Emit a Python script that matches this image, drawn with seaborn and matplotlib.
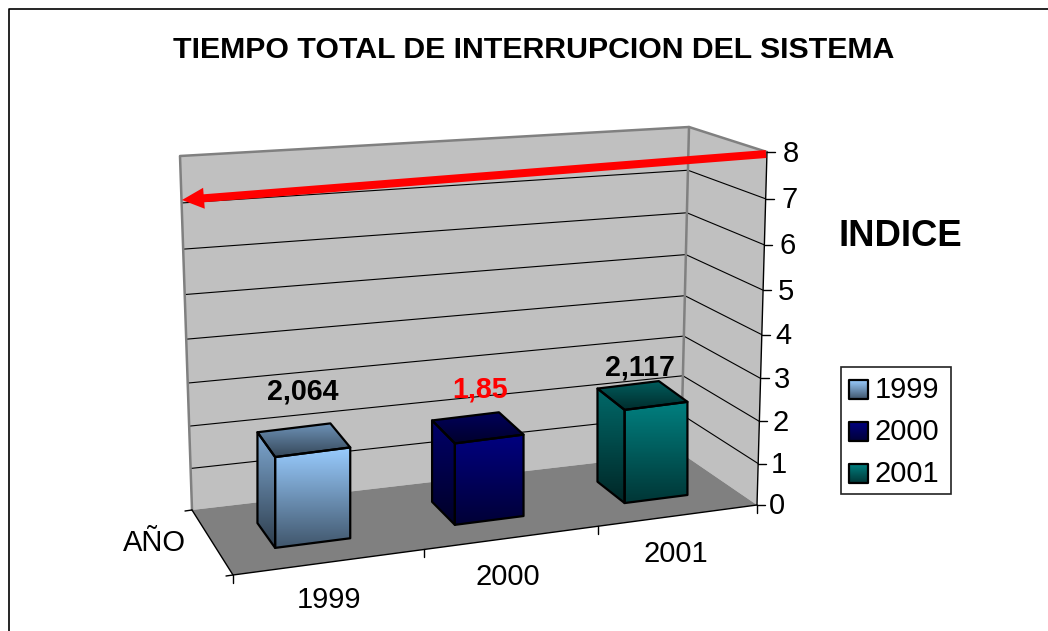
import numpy as np
import matplotlib
matplotlib.use('Agg')
import matplotlib.pyplot as plt
from matplotlib.patches import Polygon, Rectangle, FancyArrow
import seaborn as sns

years = ['1999', '2000', '2001']
values = [2.064, 1.85, 2.117]
value_labels = ['2,064', '1,85', '2,117']
label_colors = ['black', 'red', 'black']
bar_colors = ['#99CCFF', '#000080', '#008080']
y_ticks = [0, 1, 2, 3, 4, 5, 6, 7, 8]

sns.set_theme(style='white')
plt.rcParams['font.family'] = ['Liberation Sans', 'DejaVu Sans']

fig = plt.figure(figsize=(10.48, 6.31), dpi=100)
ax = fig.add_axes([0, 0, 1, 1])

# corners of the box on screen: (across, depth) -> pixel, one set for floor and one for top
floor_px = [(233, 575), (757, 505), (681, 453), (192, 510)]
top_px = [(221, 218), (767, 152), (689, 127), (180, 156)]
unit = [(0, 0), (1, 0), (1, 1), (0, 1)]
px_per_unit = 44


def homography(src, dst):
    A, b = [], []
    for (x, y), (X, Y) in zip(src, dst):
        A.append([x, y, 1, 0, 0, 0, -x * X, -y * X])
        A.append([0, 0, 0, x, y, 1, -x * Y, -y * Y])
        b += [X, Y]
    return np.append(np.linalg.solve(np.array(A, float), np.array(b, float)), 1).reshape(3, 3)


H_floor = homography(unit, floor_px)
H_top = homography(unit, top_px)


def project(u, d, v):
    p = np.array([u, d, 1.0])
    a = H_floor @ p
    b = H_top @ p
    a = a[:2] / a[2]
    b = b[:2] / b[2]
    t = v / 8
    t = t * (1 - 0.07 * (1 - t))  # walls spread a little towards the top
    return tuple(a + (b - a) * t)


def bar_pt(u, d, v):
    # bars stand straight up on the floor
    x, y = project(u, d, 0)
    return (x, y - v * px_per_unit)


def line(pts, color='black', lw=0.8):
    xs, ys = zip(*pts)
    sns.lineplot(x=list(xs), y=list(ys), sort=False, estimator=None, color=color,
                 linewidth=lw, ax=ax, legend=False)


def shade(color, k):
    return tuple(c * k for c in matplotlib.colors.to_rgb(color))


def grad_poly(pts, c1, c2, edge=True):
    # vertical gradient clipped to the polygon
    pts = np.array(pts)
    cmap = sns.blend_palette([c1, c2], as_cmap=True)
    grad = np.linspace(0, 1, 128).reshape(-1, 1)
    extent = [pts[:, 0].min(), pts[:, 0].max(), pts[:, 1].max(), pts[:, 1].min()]
    im = ax.imshow(grad, cmap=cmap, extent=extent, aspect='auto', origin='upper', zorder=3)
    clip = Polygon(pts, closed=True, transform=ax.transData)
    im.set_clip_path(clip)
    if edge:
        ax.add_patch(Polygon(pts, closed=True, fill=False, edgecolor='black', lw=1.6,
                             joinstyle='round', zorder=4))


# walls and floor
ax.add_patch(Polygon([project(0, 1, 0), project(1, 1, 0), project(1, 1, 8), project(0, 1, 8)],
                     facecolor='#C0C0C0', edgecolor='none'))
ax.add_patch(Polygon([project(1, 1, 0), project(1, 0, 0), project(1, 0, 8), project(1, 1, 8)],
                     facecolor='#C0C0C0', edgecolor='none'))
ax.add_patch(Polygon([project(0, 0, 0), project(1, 0, 0), project(1, 1, 0), project(0, 1, 0)],
                     facecolor='#808080', edgecolor='none'))

for v in y_ticks[1:-1]:
    line([project(0, 1, v), project(1, 1, v), project(1, 0, v)])

# wall outlines
line([project(0, 1, 0), project(0, 1, 8), project(1, 1, 8), project(1, 0, 8)], color='#808080', lw=1.8)
line([project(1, 1, 0), project(1, 1, 8)], color='#808080', lw=1.8)

# axes lines and ticks
line([project(0, 1, 0), project(0, 0, 0), project(1, 0, 0)], lw=1)
line([project(1, 0, 0), project(1, 0, 8)], lw=1)
for v in y_ticks:
    x, y = project(1, 0, v)
    line([(x, y), (x + 8, y)], lw=1)
    ax.text(x + 20 + 0.5 * v, y + 1.5, str(v), fontsize=21, color='black', ha='center', va='center')
for i in range(4):
    x, y = project(i / 3, 0, 0)
    line([(x, y), (x, y + 8)], lw=1)
x, y = project(0, 0, 0)
line([(x - 7, y + 1), (x, y)], lw=1)
x, y = project(0, 1, 0)
line([(x - 7, y + 1), (x, y)], lw=1)

# bars
half_w = 0.067
d0, d1 = 0.29, 0.68
center_shift = [-0.005, -0.009, -0.002]
label_offset = [(0, -47), (4, -37), (-1, -27)]
for i, val in enumerate(values):
    c = (i + 0.5) / 3 + center_shift[i]
    u0, u1 = c - half_w, c + half_w
    col = bar_colors[i]
    grad_poly([bar_pt(u0, d0, 0), bar_pt(u0, d1, 0), bar_pt(u0, d1, val), bar_pt(u0, d0, val)],
              shade(col, 0.82), shade(col, 0.30))
    grad_poly([bar_pt(u0, d0, val), bar_pt(u0, d1, val), bar_pt(u1, d1, val), bar_pt(u1, d0, val)],
              shade(col, 0.72), shade(col, 0.35))
    grad_poly([bar_pt(u0, d0, 0), bar_pt(u1, d0, 0), bar_pt(u1, d0, val), bar_pt(u0, d0, val)],
              shade(col, 1.0), shade(col, 0.42))
    tx, ty = bar_pt(c, 0.5, val)
    ax.text(tx + label_offset[i][0], ty + label_offset[i][1], value_labels[i], fontsize=20.6,
            fontweight='bold', color=label_colors[i], ha='center', va='center', zorder=6)

# red arrow along the top of the chart
ax.add_patch(FancyArrow(766, 154, -584, 46, width=8, head_width=21, head_length=22,
                        length_includes_head=True, color='#FF0000', lw=0, zorder=5))

# category labels
label_pos = [(329, 600), (508, 577), (676, 554)]
for yr, (x, y) in zip(years, label_pos):
    ax.text(x, y, yr, fontsize=21, color='black', ha='center', va='center')

ax.text(154, 543, 'AÑO', fontsize=21, color='black', ha='center', va='center')
ax.text(900, 236, 'INDICE', fontsize=26.3, fontweight='bold', color='black', ha='center', va='center')
ax.text(534, 50, 'TIEMPO TOTAL DE INTERRUPCION DEL SISTEMA', fontsize=21.75, fontweight='bold',
        color='black', ha='center', va='center')

# legend
ax.add_patch(Rectangle((841, 367), 110, 127, facecolor='white', edgecolor='#222222', lw=1.2, zorder=2))
for i, yr in enumerate(years):
    y = 380 + i * 42
    grad_poly([(849, y), (868, y), (868, y + 19), (849, y + 19)], bar_colors[i], shade(bar_colors[i], 0.42))
    ax.text(907, y + 10.5, yr, fontsize=21, color='black', ha='center', va='center', zorder=6)

# chart frame, only top and left are in the picture
line([(9, 631), (9, 9), (1048, 9)], lw=1.2)

ax.set_xlim(0, 1048)
ax.set_ylim(631, 0)
ax.axis('off')
fig.savefig('out.png', dpi=100, facecolor='white')
